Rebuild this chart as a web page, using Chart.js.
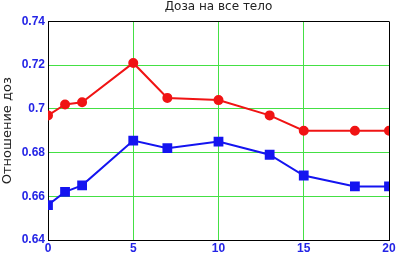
<!DOCTYPE html>
<html>
<head>
<meta charset="utf-8">
<script src="https://cdn.jsdelivr.net/npm/chart.js@4"></script>
<style>
  html, body { margin: 0; padding: 0; background: #fff; }
  #wrap { width: 400px; height: 256px; }
</style>
</head>
<body>
<div id="wrap"><canvas id="doseChart"></canvas></div>
<script>
// values
const xValues = [0, 1, 2, 5, 7, 10, 13, 15, 18, 20];
const redValues = [0.697, 0.702, 0.703, 0.721, 0.705, 0.704, 0.697, 0.690, 0.690, 0.690];
const blueValues = [0.656, 0.662, 0.665, 0.6855, 0.682, 0.685, 0.679, 0.6695, 0.6645, 0.6645];
const yTicks = [0.64, 0.66, 0.68, 0.7, 0.72, 0.74];
const xTicks = [0, 5, 10, 15, 20];

const toPoints = (ys) => xValues.map((x, i) => ({ x: x, y: ys[i] }));
const tickBlue = "#2424e6";
const gridGreen = "#44e044";

document.addEventListener("DOMContentLoaded", () => {
  const ctx = document.getElementById("doseChart").getContext("2d");
  new Chart(ctx, {
    type: "line",
    data: {
      datasets: [
        {
          data: toPoints(redValues),
          borderColor: "#f01414",
          backgroundColor: "#f01414",
          borderWidth: 2,
          pointStyle: "circle",
          pointRadius: 4,
          tension: 0,
        },
        {
          data: toPoints(blueValues),
          borderColor: "#1414f0",
          backgroundColor: "#1414f0",
          borderWidth: 2,
          pointStyle: "rect",
          pointRadius: 5.5,
          tension: 0,
        },
      ],
    },
    options: {
      responsive: true,
      maintainAspectRatio: false,
      animation: false,
      layout: { padding: { left: 0, right: 11, top: 0, bottom: 0 } },
      plugins: {
        legend: { display: false },
        tooltip: { enabled: false },
        title: {
          display: true,
          fullSize: false,
          text: "Доза на все тело",
          color: "#222",
          font: { family: "DejaVu Sans", size: 12, weight: "normal" },
          padding: { top: 0, bottom: 7 },
        },
      },
      scales: {
        x: {
          type: "linear",
          min: 0,
          max: 20,
          afterBuildTicks: (scale) => {
            scale.ticks = xTicks.map((v) => ({ value: v }));
          },
          afterFit: (scale) => {
            scale.height = 16;
          },
          ticks: {
            color: tickBlue,
            padding: 1,
            font: { family: "Liberation Sans", size: 12, weight: "bold" },
          },
          grid: {
            drawTicks: false,
            lineWidth: 1,
            color: (c) => (c.tick && c.tick.value === 20 ? "#000" : gridGreen),
          },
          border: { display: true, color: "#000", width: 1 },
        },
        y: {
          min: 0.64,
          max: 0.74,
          afterBuildTicks: (scale) => {
            scale.ticks = yTicks.map((v) => ({ value: v }));
          },
          afterFit: (scale) => {
            scale.width = 48;
          },
          ticks: {
            color: tickBlue,
            padding: 3,
            font: { family: "Liberation Sans", size: 12, weight: "bold" },
            callback: (v) => String(Math.round(v * 100) / 100),
          },
          title: {
            display: true,
            text: "Отношение доз",
            color: "#222",
            padding: 0,
            font: { family: "DejaVu Sans", size: 13, weight: "normal" },
          },
          grid: {
            drawTicks: false,
            lineWidth: 1,
            color: (c) => (c.tick && Math.abs(c.tick.value - 0.74) < 1e-9 ? "#000" : gridGreen),
          },
          border: { display: true, color: "#000", width: 1 },
        },
      },
    },
  });
});
</script>
</body>
</html>
